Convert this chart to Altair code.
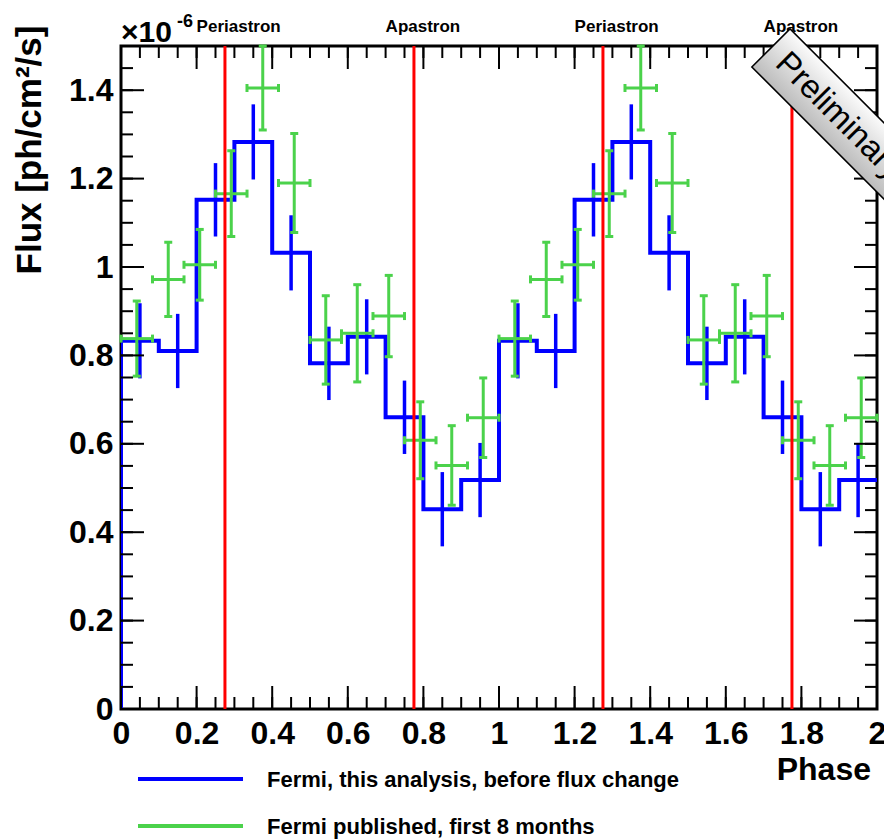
import altair as alt
import pandas as pd

# ---- light-curve values for one orbital cycle (phase 0-1); drawn over two cycles ----
blue_phase = [0.05, 0.15, 0.25, 0.35, 0.45, 0.55, 0.65, 0.75, 0.85, 0.95]
blue_flux = [0.833, 0.810, 1.152, 1.283, 1.032, 0.782, 0.842, 0.660, 0.452, 0.518]
blue_err = [0.085, 0.084, 0.083, 0.085, 0.085, 0.083, 0.085, 0.083, 0.084, 0.084]
blue_halfwidth = 0.05

green_phase = [0.0417, 0.125, 0.2083, 0.2917, 0.375, 0.4583,
               0.5417, 0.625, 0.7083, 0.7917, 0.875, 0.9583]
green_flux = [0.838, 0.972, 1.005, 1.166, 1.405, 1.190,
              0.835, 0.850, 0.889, 0.608, 0.551, 0.659]
green_err = [0.085, 0.084, 0.080, 0.097, 0.095, 0.112,
             0.100, 0.110, 0.092, 0.087, 0.090, 0.090]
green_halfwidth = 0.0417

orbit_phase = [0.275, 0.775, 1.275, 1.775]
orbit_label_phase = [0.2, 0.7, 1.2, 1.7]
orbit_label = ["Periastron", "Apastron", "Periastron", "Apastron"]

x_labels = [0, 0.2, 0.4, 0.6, 0.8, 1, 1.2, 1.4, 1.6, 1.8, 2]
y_labels = [0, 0.2, 0.4, 0.6, 0.8, 1, 1.2, 1.4]

legend_label = ["Fermi, this analysis, before flux change", "Fermi published, first 8 months"]

BLUE, GREEN, RED = "#0000ff", "#4bd24b", "#ff0000"
FONT = "Liberation Sans"
W, H = 756, 663
cycles = [0, 1]

xs = alt.Scale(domain=[0, 2], nice=False, zero=False)
ys = alt.Scale(domain=[0, 1.5], nice=False, zero=False)

# ---- tables ----
blue_rows = []
for c in cycles:
    for p, f, e in zip(blue_phase, blue_flux, blue_err):
        blue_rows.append({"phase": p + c, "flux": f, "lo": f - e, "hi": f + e})
blue_df = pd.DataFrame(blue_rows)

# histogram outline: rises from zero at the left edge, then one level per bin
step_x = [0.0] + [r["phase"] - blue_halfwidth for r in blue_rows] + [blue_rows[-1]["phase"] + blue_halfwidth]
step_y = [0.0] + [r["flux"] for r in blue_rows] + [blue_rows[-1]["flux"]]
step_df = pd.DataFrame({"phase": step_x, "flux": step_y, "order": list(range(len(step_x)))})

green_rows = []
for c in cycles:
    for p, f, e in zip(green_phase, green_flux, green_err):
        green_rows.append({"phase": p + c, "flux": f, "lo": f - e, "hi": f + e,
                           "left": p + c - green_halfwidth, "right": p + c + green_halfwidth})
green_df = pd.DataFrame(green_rows)
gcap_v = pd.DataFrame([{"phase": r["phase"], "flux": v} for r in green_rows for v in (r["lo"], r["hi"])])
gcap_h = pd.DataFrame([{"phase": v, "flux": r["flux"]} for r in green_rows for v in (r["left"], r["right"])])

orbit_df = pd.DataFrame({"phase": orbit_phase})
orbit_text_df = pd.DataFrame({"phase": orbit_label_phase, "label": orbit_label})

x_major = pd.DataFrame({"v": [i * 0.2 for i in range(11)]})
x_minor = pd.DataFrame({"v": [i * 0.05 for i in range(41)]})
y_major = pd.DataFrame({"v": [i * 0.2 for i in range(8)]})
y_minor = pd.DataFrame({"v": [i * 0.05 for i in range(31)]})

legend_df = pd.DataFrame({"label": legend_label, "color": [BLUE, GREEN], "ypix": [733, 780]})

x_axis = alt.Axis(values=x_labels, format="~g", tickSize=0, domain=False, grid=False,
                  labelFont=FONT, labelFontSize=32, labelFontWeight="bold", labelColor="black",
                  labelPadding=9, labelFlush=False, labelOverlap=False, title=None)
y_axis = alt.Axis(values=y_labels, format="~g", tickSize=0, domain=False, grid=False,
                  labelFont=FONT, labelFontSize=32, labelFontWeight="bold", labelColor="black",
                  labelPadding=8, labelFlush=False, labelOverlap=False, title=None)


def X(field):
    return alt.X(field, type="quantitative", scale=xs, axis=x_axis)


def Y(field):
    return alt.Y(field, type="quantitative", scale=ys, axis=y_axis)


# ---- histogram (this analysis) ----
step = alt.Chart(step_df).mark_line(interpolate="step-after", color=BLUE, strokeWidth=4, clip=True).encode(
    x=X("phase"), y=Y("flux"), order="order:Q"
)
blue_bars = alt.Chart(blue_df).mark_rule(color=BLUE, strokeWidth=3.5).encode(
    x=X("phase"), y=Y("lo"), y2="hi"
)

# ---- published points with error bars ----
g_vert = alt.Chart(green_df).mark_rule(color=GREEN, strokeWidth=3).encode(x=X("phase"), y=Y("lo"), y2="hi")
g_horiz = alt.Chart(green_df).mark_rule(color=GREEN, strokeWidth=3).encode(x=X("left"), x2="right", y=Y("flux"))
g_cap_v = alt.Chart(gcap_v).mark_tick(color=GREEN, orient="horizontal", size=8, thickness=3, opacity=1).encode(
    x=X("phase"), y=Y("flux"))
g_cap_h = alt.Chart(gcap_h).mark_tick(color=GREEN, orient="vertical", size=8, thickness=3, opacity=1).encode(
    x=X("phase"), y=Y("flux"))

# ---- orbital markers ----
orbit_lines = alt.Chart(orbit_df).mark_rule(color=RED, strokeWidth=3).encode(
    x=X("phase"), y=alt.value(0), y2=alt.value(H))
orbit_text = alt.Chart(orbit_text_df).mark_text(
    align="left", baseline="alphabetic", font=FONT, fontSize=17, fontWeight="bold", color="black"
).encode(x=X("phase"), y=alt.value(-14), text="label:N")


# ---- inward ticks on all four sides ----
def xticks(df, length):
    bottom = alt.Chart(df).mark_rule(color="black", strokeWidth=2).encode(
        x=X("v"), y=alt.value(H), y2=alt.value(H - length))
    top = alt.Chart(df).mark_rule(color="black", strokeWidth=2).encode(
        x=X("v"), y=alt.value(0), y2=alt.value(length))
    return [bottom, top]


def yticks(df, length):
    left = alt.Chart(df).mark_rule(color="black", strokeWidth=2).encode(
        y=Y("v"), x=alt.value(0), x2=alt.value(length))
    right = alt.Chart(df).mark_rule(color="black", strokeWidth=2).encode(
        y=Y("v"), x=alt.value(W), x2=alt.value(W - length))
    return [left, right]


ticks = xticks(x_major, 23) + xticks(x_minor, 12) + yticks(y_major, 23) + yticks(y_minor, 12)

# ---- titles and exponent ----
one = pd.DataFrame({"k": [0]})
y_title = alt.Chart(one).mark_text(
    text="Flux [ph/cm²/s]", angle=270, align="center", baseline="middle",
    font=FONT, fontSize=35, fontWeight="bold", color="black"
).encode(x=alt.value(-91), y=alt.value(104))
x_title = alt.Chart(one).mark_text(
    text="Phase", align="right", baseline="alphabetic",
    font=FONT, fontSize=32, fontWeight="bold", color="black"
).encode(x=alt.value(750), y=alt.value(734))
exp_base = alt.Chart(one).mark_text(
    text="×10", align="left", baseline="alphabetic",
    font=FONT, fontSize=30, fontWeight="bold", color="black"
).encode(x=alt.value(0), y=alt.value(-4))
exp_pow = alt.Chart(one).mark_text(
    text="-6", align="left", baseline="alphabetic",
    font=FONT, fontSize=18, fontWeight="bold", color="black"
).encode(x=alt.value(56), y=alt.value(-19))

# ---- legend ----
leg_lines = alt.Chart(legend_df).mark_rule(strokeWidth=4).encode(
    x=alt.value(17), x2=alt.value(122),
    y=alt.Y("ypix:Q", scale=None, axis=None),
    color=alt.Color("color:N", scale=None, legend=None))
leg_text = alt.Chart(legend_df).mark_text(
    align="left", baseline="middle", font=FONT, fontSize=22, fontWeight="bold", color="black", dy=1
).encode(x=alt.value(146), y=alt.Y("ypix:Q", scale=None, axis=None), text="label:N")

# ---- "Preliminary" stamp in the corner ----
stamp_box = alt.Chart(one).mark_point(
    shape="M-1,-0.18L1,-0.18L1,0.18L-1,0.18Z", size=90000, angle=45, filled=True, opacity=1,
    fill={"gradient": "linear", "x1": 0, "y1": 0, "x2": 0, "y2": 1,
          "stops": [{"offset": 0, "color": "#fbfbfb"}, {"offset": 1, "color": "#bcbcbc"}]},
    stroke="black", strokeWidth=1.5,
).encode(x=alt.value(756), y=alt.value(108))
stamp_text = alt.Chart(one).mark_text(
    text="Preliminary", angle=45, align="left", baseline="middle",
    font=FONT, fontSize=33, color="black"
).encode(x=alt.value(660), y=alt.value(12))

chart = alt.layer(
    step, blue_bars, g_vert, g_horiz, g_cap_v, g_cap_h, orbit_lines,
    *ticks, orbit_text, y_title, x_title, exp_base, exp_pow, leg_lines, leg_text,
    stamp_box, stamp_text,
).properties(
    width=W, height=H, autosize="none", background="white",
    padding={"left": 121, "top": 46, "right": 7, "bottom": 131},
).configure_view(stroke="black", strokeWidth=3)

chart.save("out.html", embed_options={"renderer": "svg", "actions": False})
